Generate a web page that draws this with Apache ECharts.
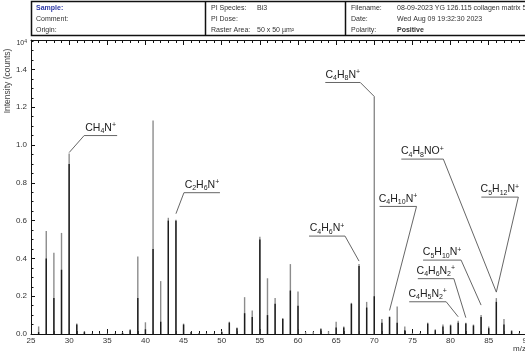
<!DOCTYPE html>
<html>
<head>
<meta charset="utf-8">
<script src="https://cdn.jsdelivr.net/npm/echarts@6/dist/echarts.min.js"></script>
<style>
  html, body { margin: 0; padding: 0; background: #fff; }
  #chart { width: 525px; height: 356px; }
</style>
</head>
<body>
<div id="chart"></div>
<script>
// nominal masses (m/z)
const masses = [26, 27, 28, 29, 30, 31, 32, 33, 34, 35, 36, 37, 38, 39, 40, 41, 42, 43, 44, 45,
  46, 47, 48, 49, 50, 51, 52, 53, 54, 55, 56, 57, 58, 59, 60, 61, 62, 63, 64, 65,
  66, 67, 68, 69, 70, 71, 72, 73, 74, 75, 76, 77, 78, 79, 80, 81, 82, 83, 84, 85,
  86, 87, 88, 89]
// total intensity (x10^4 counts), grey part
const totalIntensity = [0.04, 0.545, 0.43, 0.535, 0.955, 0.055, 0.015, 0.003, 0.003, 0.002, 0.003, 0.008, 0.025, 0.41, 0.062, 1.13, 0.28, 0.615, 0.605, 0.055,
  0.012, 0.005, 0.004, 0.003, 0.015, 0.065, 0.035, 0.195, 0.125, 0.515, 0.295, 0.19, 0.085, 0.37, 0.225, 0.01, 0.012, 0.03, 0.015, 0.065,
  0.04, 0.165, 0.37, 0.17, 1.257, 0.08, 0.093, 0.145, 0.04, 0.005, 0.005, 0.06, 0.025, 0.05, 0.05, 0.07, 0.06, 0.05, 0.1, 0.04,
  0.19, 0.08, 0.02, 0.005]
// lower (dark) part of each peak
const darkIntensity = [0.01, 0.40, 0.19, 0.34, 0.90, 0.05, 0.01, 0, 0, 0, 0, 0.005, 0.02, 0.19, 0.025, 0.45, 0.065, 0.60, 0.60, 0.05,
  0.01, 0, 0, 0, 0.01, 0.06, 0.03, 0.11, 0.09, 0.50, 0.10, 0.16, 0.08, 0.23, 0.15, 0, 0, 0.025, 0, 0.035,
  0.035, 0.16, 0.36, 0.14, 0.20, 0.06, 0.09, 0.06, 0.02, 0, 0, 0.055, 0.02, 0.04, 0.045, 0.06, 0.055, 0.045, 0.09, 0.03,
  0.17, 0.05, 0.015, 0]

// peak assignments
const noteMasses = [30, 44, 70, 68, 86, 86, 72, 84, 82, 81]
const noteLabels = [
  'CH{s|4}N{p|+}', 'C{s|2}H{s|6}N{p|+}', 'C{s|4}H{s|8}N{p|+}', 'C{s|4}H{s|6}N{p|+}', 'C{s|4}H{s|8}NO{p|+}',
  'C{s|5}H{s|12}N{p|+}', 'C{s|4}H{s|10}N{p|+}', 'C{s|5}H{s|10}N{p|+}', 'C{s|4}H{s|6}N{s|2}{p|+}', 'C{s|4}H{s|5}N{s|2}{p|+}'
]
// leader line layout (px): gap above peak, offset to elbow, underline length/side
const leaders = [
  { gap: 1, dx: 15, dy: -17, len: 33, side: 1 },
  { gap: 6, dx: 8, dy: -21, len: 36, side: 1 },
  { gap: 0, dx: -14, dy: -14, len: 35, side: -1 },
  { gap: 3, dx: -14, dy: -25, len: 36, side: -1 },
  { gap: 6, dx: -53, dy: -133, len: 42, side: -1 },
  { gap: 6, dx: 22, dy: -95, len: 37, side: -1 },
  { gap: 6, dx: 27, dy: -104, len: 37, side: -1 },
  { gap: 10, dx: -20, dy: -45, len: 38, side: -1 },
  { gap: 5, dx: -12, dy: -39, len: 36, side: -1 },
  { gap: 4, dx: -12, dy: -15, len: 37, side: -1 }
]

const FONT = '"Liberation Sans", Arial, sans-serif'
const chart = echarts.init(document.getElementById('chart'))

const xAxisBase = {
  type: 'value', min: 25, max: 95, interval: 5,
  axisLine: { show: true, onZero: false, lineStyle: { color: '#111', width: 1 } },
  axisTick: { show: true, inside: true, length: 5, lineStyle: { color: '#111' } },
  minorTick: { show: true, splitNumber: 5, length: 3, lineStyle: { color: '#111' } },
  splitLine: { show: false },
}

const header = [
  ['Sample:', 36, 8, true, '#2e3aa6'], ['Comment:', 36, 19], ['Origin:', 36, 30],
  ['PI Species:', 211, 8], ['Bi3', 257, 8], ['PI Dose:', 211, 19], ['Raster Area:', 211, 30], ['50 x 50 µm²', 257, 30],
  ['Filename:', 351, 8], ['08-09-2023 YG 126.115 collagen matrix 50x50', 397, 8], ['Date:', 351, 19],
  ['Wed Aug 09 19:32:30 2023', 397, 19], ['Polarity:', 351, 30], ['Positive', 397, 30, true]
]

chart.setOption({
  animation: false,
  textStyle: { fontFamily: FONT },
  grid: { left: 31, top: 40, width: 534, height: 294, containLabel: false, outerBoundsMode: 'none' },
  xAxis: [
    Object.assign({}, xAxisBase, {
      position: 'bottom',
      axisLabel: { fontSize: 8, color: '#333', margin: 3, fontFamily: FONT }
    }),
    Object.assign({}, xAxisBase, { position: 'top', axisLabel: { show: false } })
  ],
  yAxis: {
    type: 'value', min: 0, max: 1.556, interval: 0.2,
    axisLine: { show: true, lineStyle: { color: '#111', width: 1 } },
    axisTick: { show: true, inside: true, length: 4, lineStyle: { color: '#111' } },
    minorTick: { show: true, splitNumber: 4, length: 2.5, lineStyle: { color: '#111' } },
    splitLine: { show: false },
    axisLabel: {
      fontSize: 8, color: '#333', margin: 4, fontFamily: FONT, showMaxLabel: false,
      formatter: v => v.toFixed(1)
    }
  },
  series: [
    {
      type: 'bar', barWidth: 1.4, barGap: '-100%',
      itemStyle: { color: '#8c8c8c' },
      data: masses.map((m, i) => [m, totalIntensity[i]])
    },
    {
      type: 'bar', barWidth: 1.4, barGap: '-100%',
      itemStyle: { color: '#1c1c1c' },
      data: masses.map((m, i) => [m, darkIntensity[i]])
    },
    {
      type: 'custom', clip: false, z: 10,
      data: noteMasses.map(m => [m, totalIntensity[masses.indexOf(m)]]),
      renderItem: function (params, api) {
        const l = leaders[params.dataIndex]
        const top = api.coord([api.value(0), api.value(1)])
        const ex = top[0], ey = top[1] - l.gap
        const jx = ex + l.dx, jy = ey + l.dy
        const ux = jx + l.side * l.len
        return {
          type: 'group',
          children: [
            {
              type: 'polyline',
              shape: { points: [[ex, ey], [jx, jy], [ux, jy]] },
              style: { stroke: '#555', lineWidth: 0.9, fill: null }
            },
            {
              type: 'text', x: (jx + ux) / 2, y: jy - 1,
              style: {
                text: noteLabels[params.dataIndex],
                fontFamily: FONT, fontSize: 10.5, lineHeight: 13, fill: '#222',
                align: 'center', verticalAlign: 'bottom',
                rich: {
                  s: { fontSize: 7, lineHeight: 8, verticalAlign: 'bottom', fill: '#222', fontFamily: FONT },
                  p: { fontSize: 7, lineHeight: 8, verticalAlign: 'top', fill: '#222', fontFamily: FONT }
                }
              }
            }
          ]
        }
      }
    }
  ],
  graphic: [
    { type: 'rect', shape: { x: 31.5, y: 1.5, width: 520, height: 34 }, style: { fill: null, stroke: '#111', lineWidth: 1.5 } },
    { type: 'line', shape: { x1: 205.5, y1: 1.5, x2: 205.5, y2: 35.5 }, style: { stroke: '#111', lineWidth: 1.5 } },
    { type: 'line', shape: { x1: 345.5, y1: 1.5, x2: 345.5, y2: 35.5 }, style: { stroke: '#111', lineWidth: 1.5 } },
    ...header.map(h => ({
      type: 'text', x: h[1], y: h[2],
      style: {
        text: h[0], fontFamily: FONT, fontSize: 7, fill: h[4] || '#333',
        fontWeight: h[3] ? 'bold' : 'normal', verticalAlign: 'middle'
      }
    })),
    {
      type: 'text', x: 8, y: 81, rotation: Math.PI / 2,
      style: { text: 'Intensity (counts)', fontFamily: FONT, fontSize: 8.5, fill: '#444', align: 'center', verticalAlign: 'middle' }
    },
    {
      type: 'text', x: 27, y: 43,
      style: {
        text: '10{p|4}', fontFamily: FONT, fontSize: 7, fill: '#333', align: 'right', verticalAlign: 'middle',
        rich: { p: { fontSize: 5, lineHeight: 5, verticalAlign: 'top', fill: '#333', fontFamily: FONT } }
      }
    },
    {
      type: 'text', x: 513, y: 349,
      style: { text: 'm/z', fontFamily: FONT, fontSize: 8, fill: '#333', verticalAlign: 'middle' }
    }
  ]
})
</script>
</body>
</html>
